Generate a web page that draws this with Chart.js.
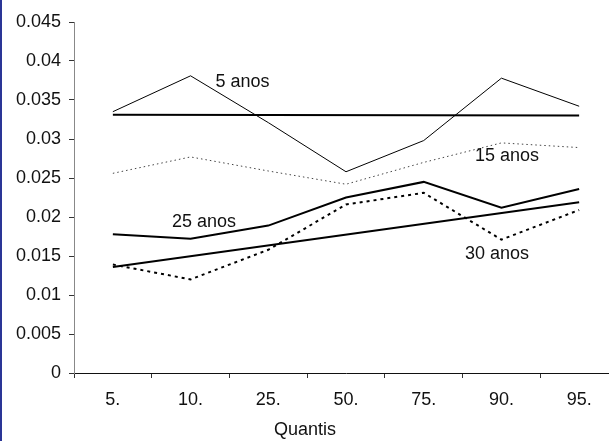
<!DOCTYPE html>
<html>
<head>
<meta charset="utf-8">
<script src="https://cdn.jsdelivr.net/npm/chart.js@4.4.1/dist/chart.umd.min.js"></script>
<style>
  html, body { margin: 0; padding: 0; overflow: hidden; background: #fff; }
  #wrap { position: relative; width: 620px; height: 441px; }
  #edge { position: absolute; left: 0; top: 0; width: 2px; height: 441px; background: #2a3596; z-index: 2; }
</style>
</head>
<body>
<div id="edge"></div>
<div id="wrap"><canvas id="quantChart"></canvas></div>
<script>
// quantile labels on the horizontal axis
const quantis = ["5.", "10.", "25.", "50.", "75.", "90.", "95."];

// values per quantile for each maturity
const anos5  = [0.0335, 0.0381, 0.0321, 0.0258, 0.0298, 0.0378, 0.0342];
const anos15 = [0.0256, 0.0277, 0.0259, 0.0242, 0.0270, 0.0295, 0.0289];
const anos25 = [0.0178, 0.0172, 0.0189, 0.0225, 0.0245, 0.0212, 0.0236];
const anos30 = [0.0139, 0.0120, 0.0158, 0.0216, 0.0231, 0.0171, 0.0209];

// straight reference lines, first and last quantile only
const linhaPlana = [0.0331, 0.0330];
const linhaTendencia = [0.0136, 0.0219];

// y axis ticks
const yMin = 0, yMax = 0.045, yStep = 0.005;

// text placed next to the lines (category index, value)
const rotulos = [
  { text: "5 anos",  i: 1.32, v: 0.0373 },
  { text: "15 anos", i: 4.66, v: 0.0278 },
  { text: "25 anos", i: 0.76, v: 0.0194 },
  { text: "30 anos", i: 4.53, v: 0.0153 }
];

const FONT = "'Liberation Sans', Arial, sans-serif";
const FSIZE = 18;

function ends(vals) {
  return [
    { x: quantis[0], y: vals[0] },
    { x: quantis[quantis.length - 1], y: vals[1] }
  ];
}

function serie(data, width, dash, color) {
  return {
    data: data,
    borderColor: color || "#000",
    borderWidth: width,
    borderDash: dash || [],
    pointRadius: 0,
    tension: 0,
    fill: false
  };
}

const labelsPlugin = {
  id: "labelsPlugin",
  afterDatasetsDraw(chart) {
    const ctx = chart.ctx;
    const xs = chart.scales.x, ys = chart.scales.y;
    ctx.save();
    ctx.fillStyle = "#111";
    ctx.font = FSIZE + "px " + FONT;
    ctx.textBaseline = "middle";
    ctx.textAlign = "left";
    rotulos.forEach(r => {
      ctx.fillText(r.text, xs.getPixelForValue(r.i), ys.getPixelForValue(r.v));
    });
    // axis title
    ctx.textAlign = "center";
    ctx.fillText("Quantis", 305, 430);
    ctx.restore();
  }
};

new Chart(document.getElementById("quantChart"), {
  type: "line",
  data: {
    labels: quantis,
    datasets: [
      serie(anos5, 1),
      serie(ends(linhaPlana), 2),
      serie(anos15, 1, [1.5, 3], "#444"),
      serie(anos25, 2),
      serie(anos30, 2, [3, 4]),
      serie(ends(linhaTendencia), 2)
    ]
  },
  options: {
    responsive: true,
    maintainAspectRatio: false,
    animation: false,
    layout: { padding: { top: 22, right: 2, bottom: 0, left: 0 } },
    plugins: {
      legend: { display: false },
      tooltip: { enabled: false }
    },
    scales: {
      x: {
        type: "category",
        offset: true,
        grid: { offset: true, drawOnChartArea: false, tickLength: 5, color: "#333" },
        border: { color: "#111", width: 1 },
        ticks: { color: "#111", padding: 11, maxRotation: 0, font: { family: FONT, size: FSIZE } },
        afterFit(scale) { scale.height = 68; }
      },
      y: {
        min: yMin,
        max: yMax,
        grid: { drawOnChartArea: false, tickLength: 5, color: "#333" },
        border: { color: "#888", width: 1 },
        ticks: {
          stepSize: yStep,
          color: "#111",
          padding: 8,
          font: { family: FONT, size: FSIZE },
          callback: v => String(+v.toFixed(3))
        },
        afterFit(scale) { scale.width = 74; }
      }
    }
  },
  plugins: [labelsPlugin]
});
</script>
</body>
</html>
